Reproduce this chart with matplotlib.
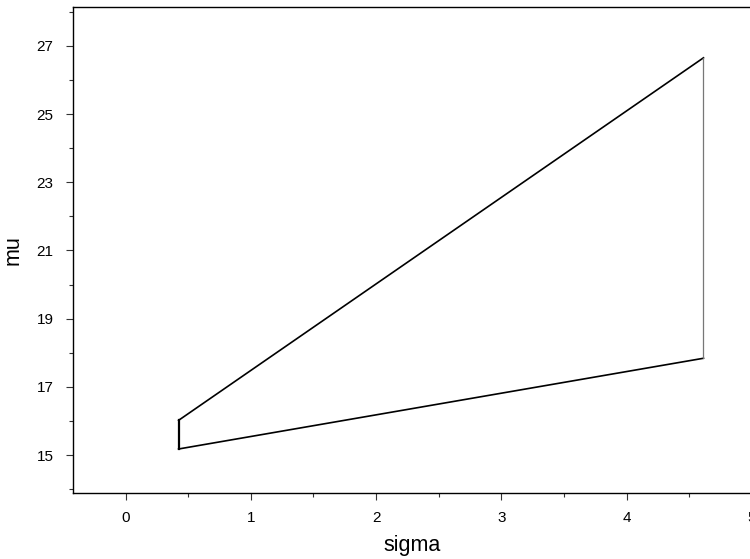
import matplotlib
matplotlib.use("Agg")
import matplotlib.pyplot as plt
from matplotlib.ticker import MultipleLocator

plt.rcParams["font.family"] = ["Liberation Sans", "DejaVu Sans"]

# corners of the region (sigma, mu)
sigma_lo, sigma_hi = 0.423, 4.613
mu_upper = [16.02, 26.65]   # upper edge at sigma_lo, sigma_hi
mu_lower = [15.18, 17.84]   # lower edge at sigma_lo, sigma_hi

fig = plt.figure(figsize=(7.5, 5.59), dpi=100)
ax = fig.add_axes([0.0973, 0.1181, 0.9053, 0.8694])

ax.plot([sigma_lo, sigma_hi], mu_upper, color="black", lw=1.2)
ax.plot([sigma_lo, sigma_hi], mu_lower, color="black", lw=1.2)
ax.plot([sigma_lo, sigma_lo], [mu_lower[0], mu_upper[0]], color="black", lw=1.6)
ax.plot([sigma_hi, sigma_hi], [mu_lower[1], mu_upper[1]], color="#777777", lw=0.9)

ax.set_xlim(-0.42, 5.0)
ax.set_ylim(13.89, 28.14)
ax.xaxis.set_major_locator(MultipleLocator(1))
ax.xaxis.set_minor_locator(MultipleLocator(0.5))
ax.set_yticks([15, 17, 19, 21, 23, 25, 27])
ax.yaxis.set_minor_locator(MultipleLocator(1))

for s in ax.spines.values():
    s.set_linewidth(1.0)
ax.spines["right"].set_visible(False)

ax.tick_params(which="major", direction="out", length=5, width=0.8, labelsize=11, color="#333333")
ax.tick_params(axis="y", which="major", pad=9)
ax.tick_params(axis="x", which="major", pad=8)
ax.tick_params(which="minor", direction="out", length=3, width=0.8, color="#333333")

ax.set_xlabel("sigma", fontsize=15.5, labelpad=7)
ax.set_ylabel("mu", fontsize=15.5, labelpad=9)

fig.savefig("out.png", dpi=100)
